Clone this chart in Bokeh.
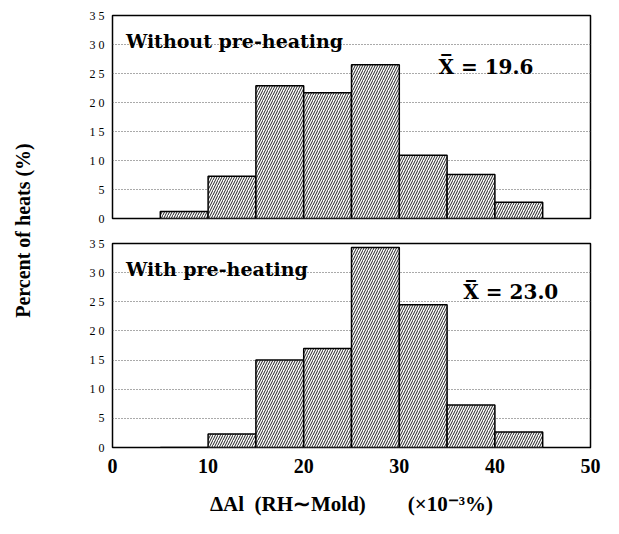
import math
from bokeh.plotting import figure
from bokeh.layouts import row, column
from bokeh.models import Label, FixedTicker, Range1d
from bokeh.embed import file_html
from bokeh.resources import INLINE

# ---- data ----
bin_edges = [5, 10, 15, 20, 25, 30, 35, 40, 45]
without_pct = [1.2, 7.3, 22.9, 21.7, 26.5, 10.9, 7.6, 2.8]
with_pct = [0.0, 2.3, 15.0, 17.0, 34.3, 24.5, 7.3, 2.65]
y_ticks = [0, 5, 10, 15, 20, 25, 30, 35]
y_tick_labels = ["0", "5", "1 0", "1 5", "2 0", "2 5", "3 0", "3 5"]
x_ticks = [0, 10, 20, 30, 40, 50]
panel_titles = ["Without pre-heating", "With pre-heating"]
means = ["19.6", "23.0"]
y_label = "Percent of heats (%)"
x_label = "\u0394Al\u2002(RH\u223cMold)\u2003\u2003(\u00d710\u207b\u00b3%)"

SERIF = "Liberation Serif"
ANN = "DejaVu Serif"

lefts = bin_edges[:-1]
rights = bin_edges[1:]


def panel(values, title, mean, height, border_top, border_bottom, show_x, mean_pos):
    p = figure(width=550, height=height, output_backend="svg", toolbar_location=None,
               x_range=Range1d(0, 50), y_range=Range1d(0, 35),
               min_border_left=54, min_border_right=18,
               min_border_top=border_top, min_border_bottom=border_bottom,
               x_axis_location="below" if show_x else None)
    p.outline_line_color = "black"
    p.outline_line_width = 1.5
    p.background_fill_color = "white"
    p.border_fill_color = "white"
    p.xgrid.visible = False
    p.ygrid.ticker = FixedTicker(ticks=y_ticks)
    p.ygrid.grid_line_color = "#555555"
    p.ygrid.grid_line_dash = "1 2"
    p.ygrid.grid_line_width = 1

    p.quad(left=lefts, right=rights, bottom=0, top=values,
           fill_color="white", line_color="black", line_width=1.5,
           hatch_pattern="right_diagonal_line", hatch_color="#222222",
           hatch_scale=5, hatch_weight=1.0)

    ya = p.yaxis[0]
    ya.ticker = FixedTicker(ticks=y_ticks)
    ya.major_label_overrides = {t: l for t, l in zip(y_ticks, y_tick_labels)}
    ya.axis_line_color = None
    ya.major_tick_line_color = None
    ya.minor_tick_line_color = None
    ya.major_tick_out = 0
    ya.major_label_standoff = 8
    ya.major_label_text_font = SERIF
    ya.major_label_text_font_size = "12px"
    ya.major_label_text_color = "black"

    if show_x:
        xa = p.xaxis[0]
        xa.ticker = FixedTicker(ticks=x_ticks)
        xa.axis_line_color = None
        xa.major_tick_line_color = None
        xa.minor_tick_line_color = None
        xa.major_tick_out = 0
        xa.major_label_standoff = 11
        xa.major_label_text_font = SERIF
        xa.major_label_text_font_style = "bold"
        xa.major_label_text_font_size = "20px"
        xa.major_label_text_color = "black"
        xa.axis_label = x_label
        xa.axis_label_standoff = 16
        xa.axis_label_text_font = SERIF
        xa.axis_label_text_font_style = "bold"
        xa.axis_label_text_font_size = "21px"
        xa.axis_label_text_color = "black"

    p.add_layout(Label(x=1.4, y=30.6, text=title, text_font=ANN, text_font_style="bold",
                       text_font_size="19px", text_baseline="middle", text_align="left",
                       text_color="black"))
    p.add_layout(Label(x=mean_pos[0], y=mean_pos[1], text="X\u0305 = " + mean, text_font=ANN,
                       text_font_style="bold", text_font_size="20px",
                       text_baseline="middle", text_align="left", text_color="black"))
    return p


top = panel(without_pct, panel_titles[0], means[0], 230, 15, 12, False, (34.1, 26.2))
bot = panel(with_pct, panel_titles[1], means[1], 302, 13, 85, True, (36.7, 26.6))

lab = figure(width=58, height=532, output_backend="svg", toolbar_location=None,
             x_axis_location=None, y_axis_location=None,
             min_border=0, x_range=Range1d(0, 1), y_range=Range1d(0, 1))
lab.outline_line_color = None
lab.grid.visible = False
lab.add_layout(Label(x=22, y=302, x_units="screen", y_units="screen", text=y_label,
                     angle=math.pi / 2, text_align="center", text_baseline="middle",
                     text_font=SERIF, text_font_style="bold", text_font_size="20px",
                     text_color="black"))

layout = row(lab, column(top, bot, spacing=0), spacing=0)

open("out.html", "w").write(file_html(layout, INLINE))
